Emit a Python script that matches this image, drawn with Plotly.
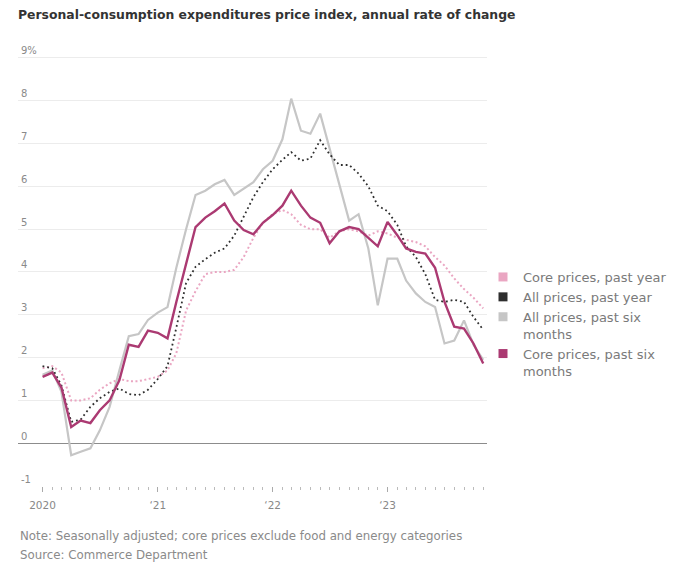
import pandas as pd
import plotly.graph_objects as go

# Monthly observations, Jan 2020 - Nov 2023
months = pd.date_range("2020-01-01", "2023-11-01", freq="MS")

core_past_year = [1.75, 1.8, 1.65, 1.0, 1.0, 1.05, 1.25, 1.4, 1.5, 1.45, 1.45, 1.5,
                  1.55, 1.7, 2.1, 3.1, 3.55, 3.95, 4.0, 4.0, 4.05, 4.35, 4.8, 5.15,
                  5.35, 5.45, 5.35, 5.1, 5.0, 5.0, 4.8, 4.95, 5.0, 4.95, 4.85, 4.95,
                  4.9, 4.8, 4.75, 4.7, 4.6, 4.35, 4.15, 3.85, 3.6, 3.4, 3.15]
all_past_year = [1.8, 1.75, 1.35, 0.5, 0.55, 0.85, 1.05, 1.2, 1.28, 1.15, 1.12, 1.25,
                 1.5, 1.8, 2.7, 3.74, 4.12, 4.3, 4.45, 4.55, 4.85, 5.3, 5.75, 6.1,
                 6.4, 6.62, 6.8, 6.6, 6.65, 7.08, 6.75, 6.5, 6.5, 6.3, 6.0, 5.55,
                 5.42, 5.1, 4.6, 4.35, 3.95, 3.35, 3.3, 3.35, 3.3, 2.95, 2.65]
all_six_months = [1.6, 1.7, 1.2, -0.28, -0.2, -0.12, 0.3, 0.85, 1.7, 2.5, 2.55, 2.88,
                  3.05, 3.18, 4.1, 5.0, 5.8, 5.9, 6.05, 6.15, 5.8, 5.95, 6.1, 6.4,
                  6.6, 7.1, 8.05, 7.3, 7.23, 7.7, 6.9, 6.05, 5.2, 5.35, 4.55, 3.22,
                  4.31, 4.31, 3.8, 3.5, 3.3, 3.18, 2.33, 2.4, 2.87, 2.3, 1.95]
core_six_months = [1.55, 1.65, 1.3, 0.38, 0.53, 0.47, 0.77, 1.0, 1.47, 2.3, 2.25, 2.63,
                   2.58, 2.45, 3.3, 4.2, 5.05, 5.27, 5.42, 5.6, 5.2, 4.98, 4.88, 5.15,
                   5.33, 5.55, 5.9, 5.55, 5.27, 5.15, 4.67, 4.95, 5.05, 5.0, 4.8, 4.6,
                   5.17, 4.86, 4.55, 4.47, 4.43, 4.1, 3.3, 2.72, 2.68, 2.33, 1.86]

y_ticks = [-1, 0, 1, 2, 3, 4, 5, 6, 7, 8, 9]
y_tick_labels = ["-1", "0", "1", "2", "3", "4", "5", "6", "7", "8", "9%"]
year_ticks = ["2020-01-01", "2021-01-01", "2022-01-01", "2023-01-01"]
year_labels = ["2020", "\u201821", "\u201822", "\u201823"]

c_core_year = "#eaa6c2"
c_all_year = "#2e2e2e"
c_all_six = "#c6c6c6"
c_core_six = "#ab3a72"

fig = go.Figure()
fig.add_trace(go.Scatter(x=months, y=all_six_months, mode="lines",
                         line=dict(color=c_all_six, width=2.2), showlegend=False))
fig.add_trace(go.Scatter(x=months, y=core_past_year, mode="lines",
                         line=dict(color=c_core_year, width=2, dash="2px,2.5px"), showlegend=False))
fig.add_trace(go.Scatter(x=months, y=all_past_year, mode="lines",
                         line=dict(color=c_all_year, width=1.8, dash="1.8px,3px"), showlegend=False))
fig.add_trace(go.Scatter(x=months, y=core_six_months, mode="lines",
                         line=dict(color=c_core_six, width=2.4), showlegend=False))

legend_items = [("Core prices, past year", c_core_year),
                ("All prices, past year", c_all_year),
                ("All prices, past six<br>months", c_all_six),
                ("Core prices, past six<br>months", c_core_six)]
for name, col in legend_items:
    fig.add_trace(go.Scatter(x=[None], y=[None], mode="markers", name=name,
                             marker=dict(symbol="square", size=9, color=col)))

font_family = "DejaVu Sans, Noto Sans, sans-serif"

fig.update_layout(
    width=686, height=565,
    margin=dict(l=18, r=199, t=43, b=79, autoexpand=False),
    paper_bgcolor="white", plot_bgcolor="white",
    font=dict(family=font_family, color="#888888", size=10),
    title=dict(text="<b>Personal-consumption expenditures price index, annual rate of change</b>",
               x=18 / 686, xanchor="left", xref="container",
               y=1 - 15 / 565, yanchor="middle", yref="container",
               font=dict(size=12.4, color="#333333", family=font_family)),
    legend=dict(x=483 / 686, xref="container", xanchor="left",
                y=1 - 262 / 565, yref="container", yanchor="top",
                font=dict(size=13, color="#7a7a7a"), valign="top",
                tracegroupgap=0, itemwidth=30, bgcolor="rgba(0,0,0,0)"),
    xaxis=dict(type="date", range=["2019-10-15", "2023-11-13"],
               tickvals=year_ticks, ticktext=year_labels,
               ticks="outside", ticklen=5, tickcolor="#aaaaaa", tickwidth=1,
               ticklabelstandoff=4,
               minor=dict(tickvals=list(months), ticks="outside", ticklen=2.5,
                          tickcolor="#bbbbbb", showgrid=False),
               showgrid=False, showline=False, zeroline=False,
               tickfont=dict(size=10.5, color="#888888")),
    yaxis=dict(range=[-1, 9.35], tickvals=y_ticks, ticktext=y_tick_labels,
               ticklabelposition="inside top", ticks="",
               showgrid=True, gridcolor="#ececec", gridwidth=1,
               zeroline=True, zerolinecolor="#8c8c8c", zerolinewidth=1.3,
               showline=False, tickfont=dict(size=10, color="#8a8a8a")),
    annotations=[
        dict(text="Note: Seasonally adjusted; core prices exclude food and energy categories",
             xref="paper", yref="paper", x=0, y=(486 - 536) / 443, xanchor="left",
             yanchor="middle", showarrow=False, font=dict(size=11.8, color="#8a8a8a")),
        dict(text="Source: Commerce Department",
             xref="paper", yref="paper", x=0, y=(486 - 555) / 443, xanchor="left",
             yanchor="middle", showarrow=False, font=dict(size=11.8, color="#8a8a8a")),
    ],
)

fig.write_html("out.html", config={"displayModeBar": False},
               post_script="document.body.style.margin='0';")
